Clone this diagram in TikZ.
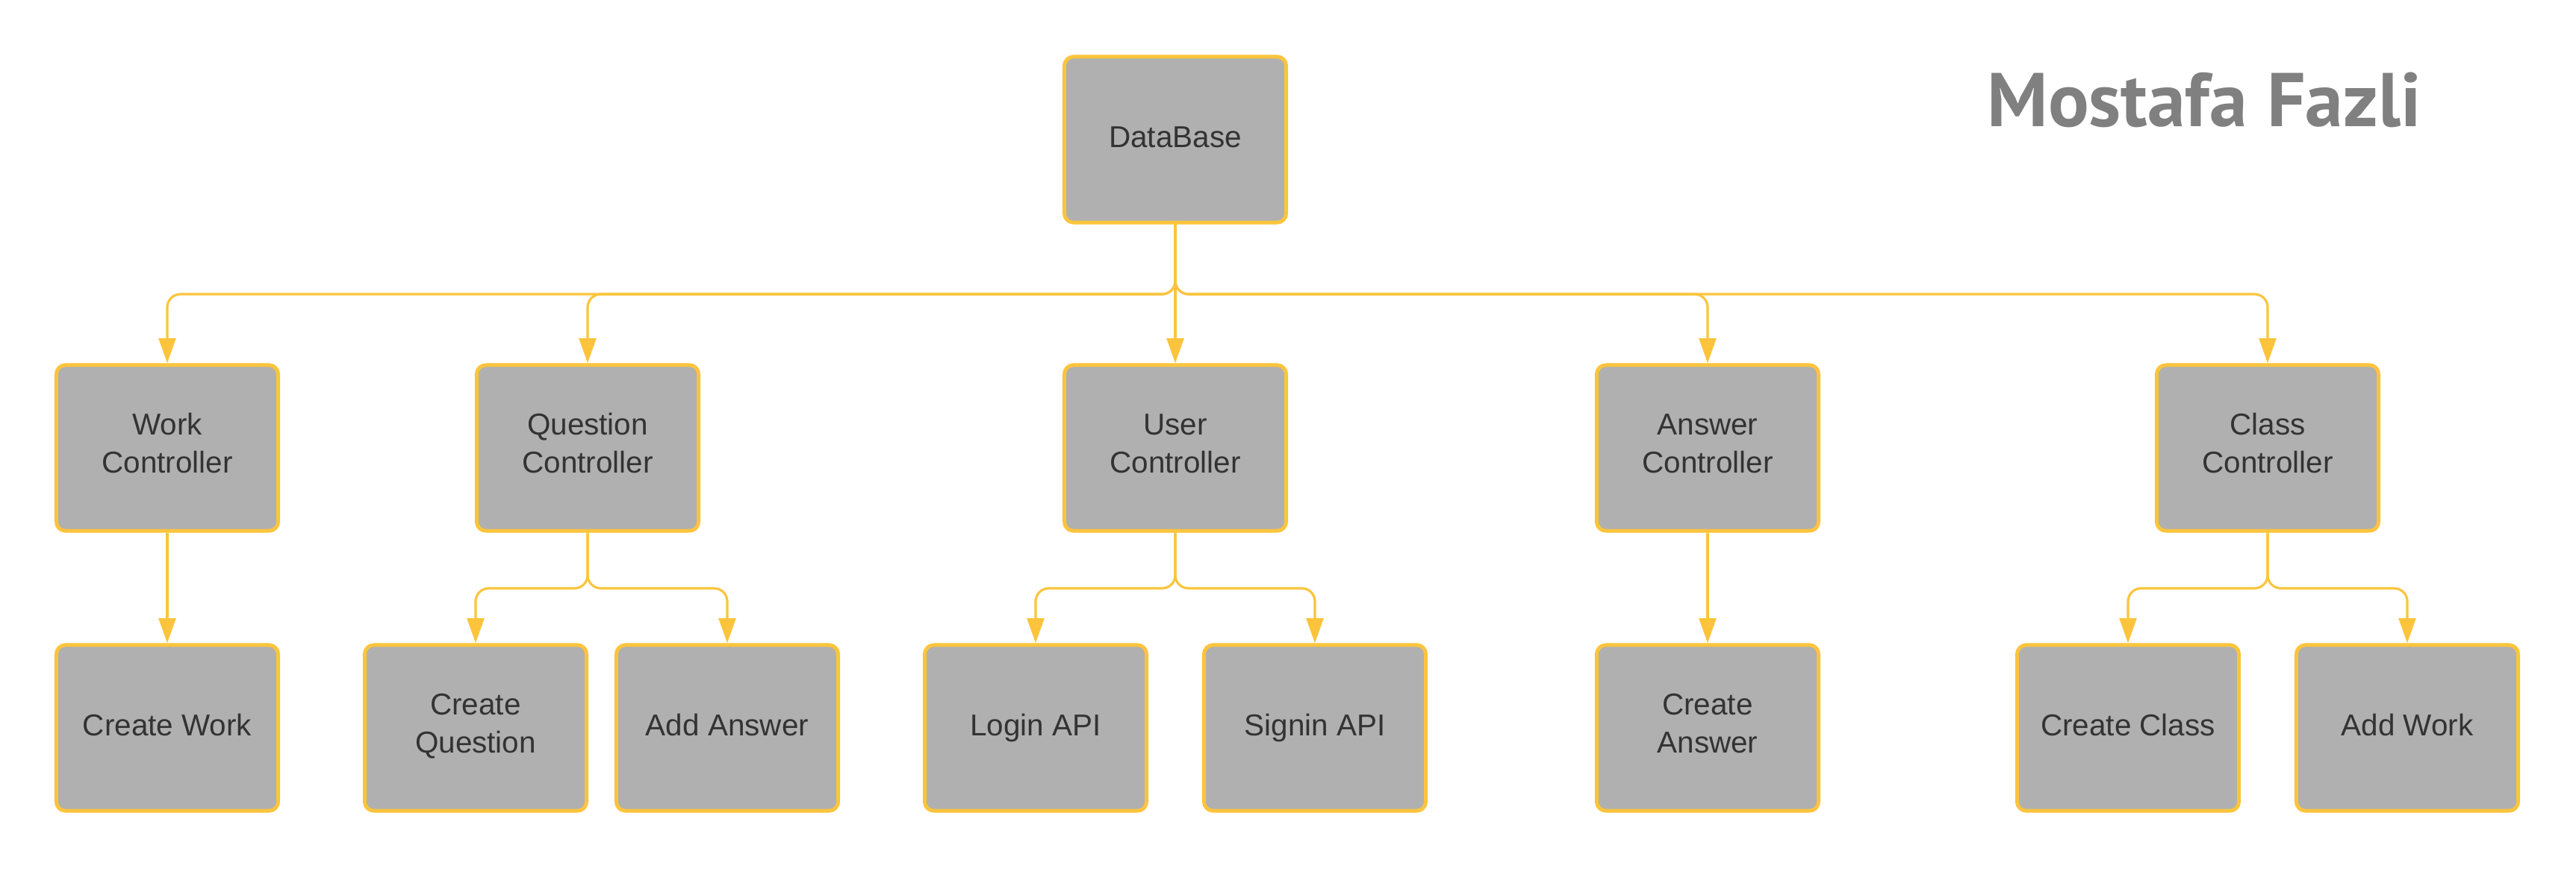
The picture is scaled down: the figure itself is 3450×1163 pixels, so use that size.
\documentclass[tikz,border=0pt]{standalone}
\usepackage{fontspec}
\setmainfont{Liberation Sans}
\newfontfamily\titlefont{PT Sans}
\usetikzlibrary{arrows.meta}
\definecolor{boxgray}{HTML}{B0B0B0}
\definecolor{gold}{HTML}{FBC43C}
\definecolor{txt}{HTML}{333333}
\definecolor{titlegray}{HTML}{808080}
\begin{document}
\begin{tikzpicture}[x=0.01cm,y=-0.01cm,
  box/.style={draw=gold, fill=boxgray, line width=1.4pt, rounded corners=3.5pt,
    minimum width=2.97cm, minimum height=2.22cm, align=center, text=txt,
    font=\fontsize{11.5}{14.3}\selectfont, inner sep=0pt,
    text height=8.5pt, text depth=2.7pt},
  box2/.style={box, text height=21.5pt, text depth=2.7pt},
  conn/.style={draw=gold, line width=0.9pt, rounded corners=5pt,
    -{Triangle[width=6.5pt,length=9.5pt,fill=gold]}}]
\useasboundingbox (0,0) rectangle (3450,1163);

\node[box] (db) at (1574,187) {DataBase};

\node[box2] (wc) at (224,600) {Work\\Controller};
\node[box2] (qc) at (787,600) {Question\\Controller};
\node[box2] (uc) at (1574,600) {User\\Controller};
\node[box2] (ac) at (2287,600) {Answer\\Controller};
\node[box2] (cc) at (3037,600) {Class\\Controller};

\node[box] (cw) at (224,975) {Create Work};
\node[box2] (cq) at (637,975) {Create\\Question};
\node[box] (aa) at (974,975) {Add Answer};
\node[box] (la) at (1387,975) {Login API};
\node[box] (sa) at (1761,975) {Signin API};
\node[box2] (ca) at (2287,975) {Create\\Answer};
\node[box] (ccl) at (2850,975) {Create Class};
\node[box] (aw) at (3224,975) {Add Work};

\node[font=\titlefont\bfseries\fontsize{29}{29}\selectfont, text=titlegray, anchor=base] (title) at (2952,169) {Mostafa Fazli};

\coordinate (b0) at (1574,394);
\coordinate (bq) at (787,788);
\coordinate (bu) at (1574,788);
\coordinate (bc) at (3037,788);

\draw[conn] (db.south) -- (b0) -| (wc.north);
\draw[conn] (db.south) -- (b0) -| (qc.north);
\draw[conn] (db.south) -- (uc.north);
\draw[conn] (db.south) -- (b0) -| (ac.north);
\draw[conn] (db.south) -- (b0) -| (cc.north);

\draw[conn] (wc.south) -- (cw.north);
\draw[conn] (qc.south) -- (bq) -| (cq.north);
\draw[conn] (qc.south) -- (bq) -| (aa.north);
\draw[conn] (uc.south) -- (bu) -| (la.north);
\draw[conn] (uc.south) -- (bu) -| (sa.north);
\draw[conn] (ac.south) -- (ca.north);
\draw[conn] (cc.south) -- (bc) -| (ccl.north);
\draw[conn] (cc.south) -- (bc) -| (aw.north);
\end{tikzpicture}
\end{document}
